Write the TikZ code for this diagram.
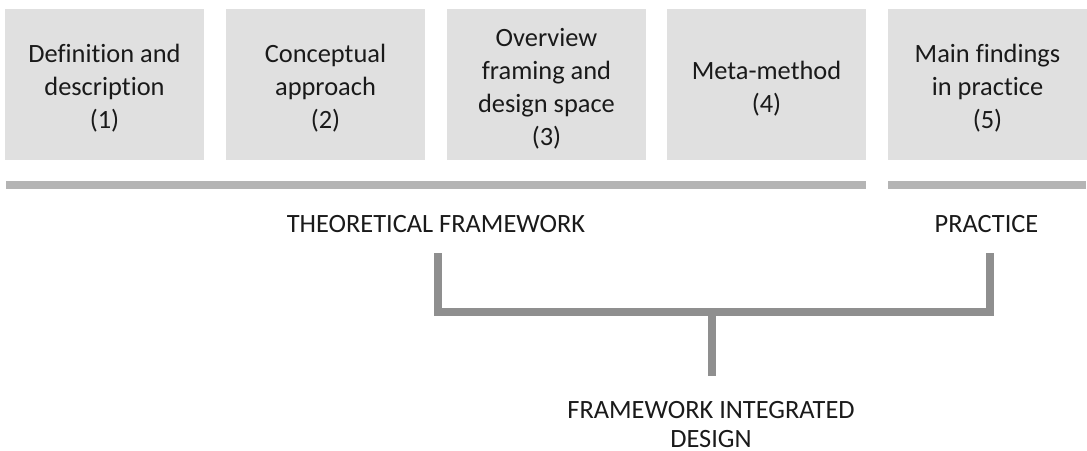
\documentclass[tikz,border=0pt]{standalone}
\usepackage{fontspec}
\setmainfont{Carlito}[Ligatures=NoCommon]
\definecolor{boxgray}{HTML}{E0E0E0}
\definecolor{bargray}{HTML}{B4B4B4}
\definecolor{linkgray}{HTML}{8F8F8F}
\definecolor{ink}{HTML}{1A1A1A}
\begin{document}
\begin{tikzpicture}[x=1pt,y=-1pt,
  stage/.style={fill=boxgray,draw=none,minimum width=199pt,minimum height=151pt,
    inner sep=0pt},
  stagetext/.style={inner sep=0pt,align=center,text=ink,
    font=\fontsize{26.4}{33}\selectfont},
  band/.style={bargray,line width=8pt},
  caption/.style={inner sep=0pt,align=center,text=ink,anchor=base,
    font=\fontsize{26.4}{28.4}\selectfont},
  link/.style={linkgray,line width=7.7pt,line join=miter}]
  \useasboundingbox (0,0) rectangle (1087,450);

  % stage boxes
  \node[stage] (s1) at (104.5,84.5) {};
  \node[stage] (s2) at (325.5,84.5) {};
  \node[stage] (s3) at (546.5,84.5) {};
  \node[stage] (s4) at (766.5,84.5) {};
  \node[stage] (s5) at (987.5,84.5) {};

  % stage titles, set a little below the box centre
  \node[stagetext] (t1) at ([yshift=-4pt]s1.center) {Definition and\\description\\(1)};
  \node[stagetext] (t2) at ([yshift=-4pt]s2.center) {Conceptual\\approach\\(2)};
  \node[stagetext] (t3) at ([yshift=-4pt]s3.center) {Overview\\framing and\\design space\\(3)};
  \node[stagetext] (t4) at ([yshift=-4pt]s4.center) {Meta-method\\(4)};
  \node[stagetext] (t5) at ([yshift=-4pt]s5.center) {Main findings\\in practice\\(5)};

  % grouping bands
  \coordinate (b1l) at (6,185);
  \coordinate (b1r) at (866,185);
  \coordinate (b2l) at (888,185);
  \coordinate (b2r) at (1086,185);
  \draw[band] (b1l) -- (b1r);
  \draw[band] (b2l) -- (b2r);

  % group labels
  \node[caption] (theo) at (436,232) {THEORETICAL FRAMEWORK};
  \node[caption] (prac) at (986.5,232) {PRACTICE};
  \node[caption] (fid) at (711,447) {FRAMEWORK INTEGRATED\\DESIGN};

  % bracket joining both groups
  \coordinate (lt) at (438,253.3);
  \coordinate (rt) at (990,253.3);
  \coordinate (lb) at (438,312.2);
  \coordinate (rb) at (990,312.2);
  \coordinate (mj) at (712,312.2);
  \coordinate (mb) at (712,376);
  \draw[link] (lt) -- (lb) -- (rb) -- (rt);
  \draw[link] (mj) -- (mb);
\end{tikzpicture}
\end{document}
